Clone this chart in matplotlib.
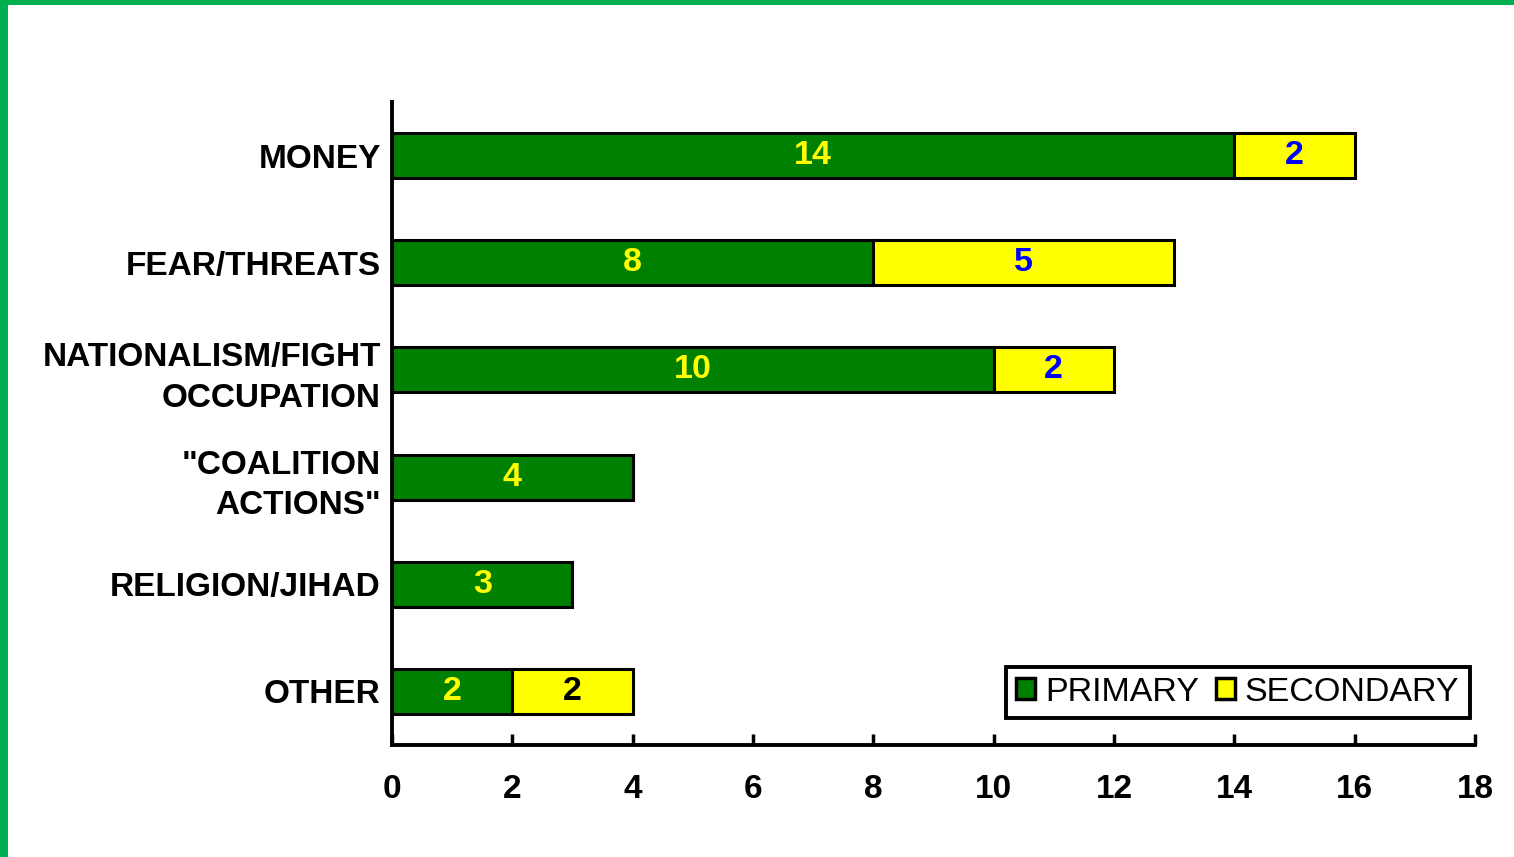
import matplotlib.pyplot as plt
from matplotlib.patches import Rectangle, Patch

categories = ['MONEY', 'FEAR/THREATS', 'NATIONALISM/FIGHT\nOCCUPATION',
              '"COALITION\nACTIONS"', 'RELIGION/JIHAD', 'OTHER']
primary = [14, 8, 10, 4, 3, 2]
secondary = [2, 5, 2, 0, 0, 2]
secondary_label_colors = ['#0000FF', '#0000FF', '#0000FF', None, None, 'black']
xticks = [0, 2, 4, 6, 8, 10, 12, 14, 16, 18]

plt.rcParams['font.family'] = ['Liberation Sans', 'DejaVu Sans']

fig = plt.figure(figsize=(15.14, 8.57), dpi=100)
ax = fig.add_axes([0.2589, 0.1307, 0.9742 - 0.2589, 0.881 - 0.1307])

# green frame along the top and left edges
fig.patches.append(Rectangle((0, 0), 8 / 1514, 1, transform=fig.transFigure,
                             facecolor='#00B050', edgecolor='none'))
fig.patches.append(Rectangle((0, 1 - 5 / 857), 1, 5 / 857, transform=fig.transFigure,
                             facecolor='#00B050', edgecolor='none'))

ypos = list(range(len(categories)))
h = 0.42
ax.barh(ypos, primary, height=h, color='#008000', edgecolor='black', linewidth=2.2)
ax.barh(ypos, secondary, left=primary, height=h, color='#FFFF00',
        edgecolor='black', linewidth=2.2)

for y, p, s, c in zip(ypos, primary, secondary, secondary_label_colors):
    ax.text(p / 2, y, str(p), ha='center', va='center', color='#FFFF00',
            fontsize=24.5, fontweight='bold')
    if s:
        ax.text(p + s / 2, y, str(s), ha='center', va='center', color=c,
                fontsize=24.5, fontweight='bold')

ax.set_xlim(0, 18)
ax.set_ylim(5.5, -0.5)
ax.set_xticks(xticks)
ax.set_xticklabels([str(t) for t in xticks], fontsize=24, fontweight='bold')
ax.set_yticks(ypos)
ax.set_yticklabels(categories, fontsize=24, fontweight='bold',
                   multialignment='right', linespacing=1.4)
ax.tick_params(axis='x', direction='in', length=8, width=2.5, pad=21)
ax.tick_params(axis='y', length=0, pad=8)

for side in ['top', 'right']:
    ax.spines[side].set_visible(False)
for side in ['left', 'bottom']:
    ax.spines[side].set_linewidth(2.8)

handles = [Patch(facecolor='#008000', edgecolor='black', linewidth=2.5, label='PRIMARY'),
           Patch(facecolor='#FFFF00', edgecolor='black', linewidth=2.5, label='SECONDARY')]
leg = ax.legend(handles=handles, loc='lower right', bbox_to_anchor=(0.995, 0.042),
                borderaxespad=0, ncol=2, fontsize=24.5, frameon=True, fancybox=False,
                framealpha=1, handlelength=0.55, handleheight=0.55, handletextpad=0.3,
                columnspacing=0.5, borderpad=0.3)
leg.get_frame().set_edgecolor('black')
leg.get_frame().set_linewidth(2.8)

fig.savefig('out.png', dpi=100, facecolor='white')
